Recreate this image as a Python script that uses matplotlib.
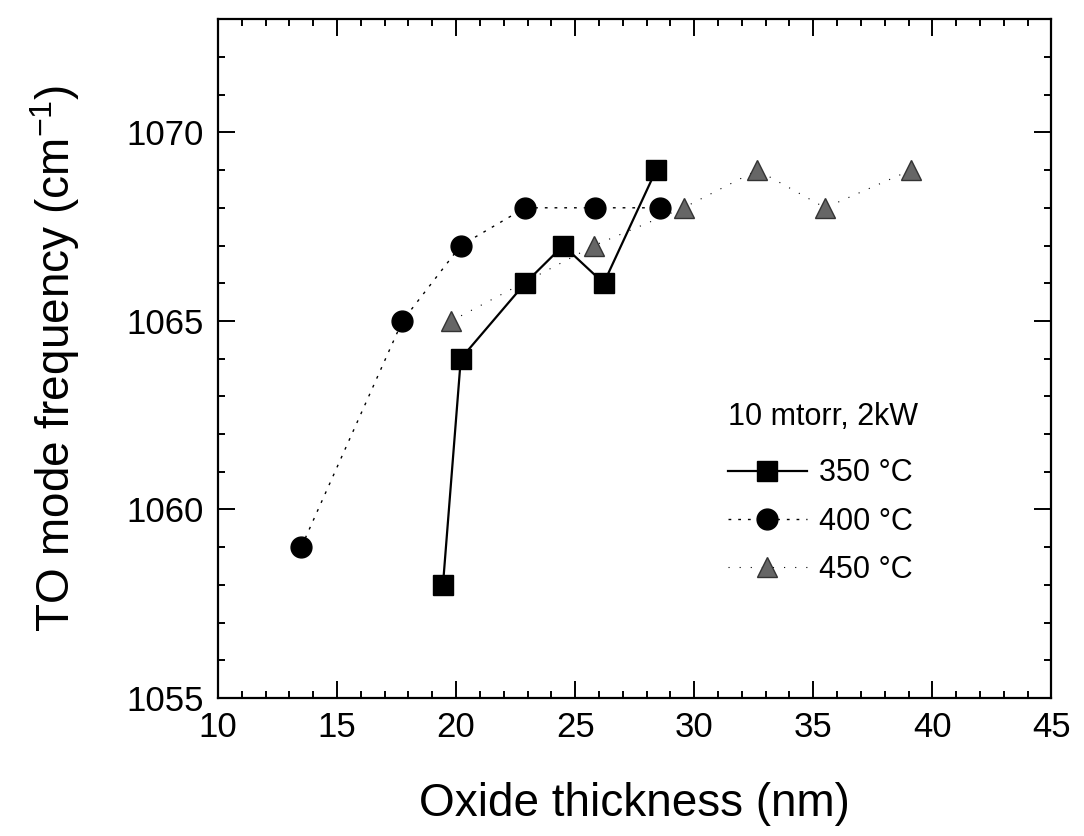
import matplotlib
matplotlib.use("Agg")
import matplotlib.pyplot as plt
from matplotlib.ticker import MultipleLocator

plt.rcParams['font.family'] = ['Liberation Sans', 'DejaVu Sans']
plt.rcParams['mathtext.default'] = 'regular'

# oxide thickness (nm) and TO mode frequency (cm-1)
x_350 = [19.45, 20.2, 22.9, 24.5, 26.2, 28.4]
y_350 = [1058, 1064, 1066, 1067, 1066, 1069]

x_400 = [13.5, 17.75, 20.2, 22.9, 25.85, 28.55]
y_400 = [1059, 1065, 1067, 1068, 1068, 1068]

x_450 = [19.8, 25.8, 29.55, 32.65, 35.5, 39.1]
y_450 = [1065, 1067, 1068, 1069, 1068, 1069]

labels = ["350 °C", "400 °C", "450 °C"]

fig = plt.figure(figsize=(10.84, 8.36), dpi=100)
ax = fig.add_axes([0.201, 0.165, 0.769, 0.812])

ax.plot(x_350, y_350, '-', color='black', lw=1.6, marker='s', ms=14,
        mfc='black', mec='black', label=labels[0])
ax.plot(x_400, y_400, color='black', lw=1.0, ls=(0, (2, 5)), marker='o', ms=15,
        mfc='black', mec='black', label=labels[1])
ax.plot(x_450, y_450, color='black', lw=0.8, ls=(0, (1, 9)), marker='^', ms=15,
        mfc='#666666', mec='#333333', label=labels[2])

ax.set_xlim(10, 45)
ax.set_ylim(1055, 1073)
ax.xaxis.set_major_locator(MultipleLocator(5))
ax.xaxis.set_minor_locator(MultipleLocator(1))
ax.yaxis.set_major_locator(MultipleLocator(5))
ax.yaxis.set_minor_locator(MultipleLocator(1))
ax.tick_params(which='both', direction='in', top=True, right=True,
               labelsize=25, width=1.4)
ax.tick_params(which='major', length=12)
ax.tick_params(which='minor', length=5)
ax.tick_params(axis='x', which='major', pad=9)
ax.tick_params(axis='y', which='major', pad=10)
for s in ax.spines.values():
    s.set_linewidth(1.6)

ax.set_xlabel("Oxide thickness (nm)", fontsize=33, labelpad=28)
ax.set_ylabel("TO mode frequency (cm$^{-1}$)", fontsize=33, labelpad=32)

leg = ax.legend(title="10 mtorr, 2kW", loc='upper left',
                bbox_to_anchor=(0.586, 0.456), frameon=False, fontsize=22,
                title_fontsize=22, handlelength=2.6, handletextpad=0.4,
                labelspacing=0.6, alignment='left', borderpad=0.2)
leg.get_title().set_position((0, 8))

fig.savefig("out.png", dpi=100)
